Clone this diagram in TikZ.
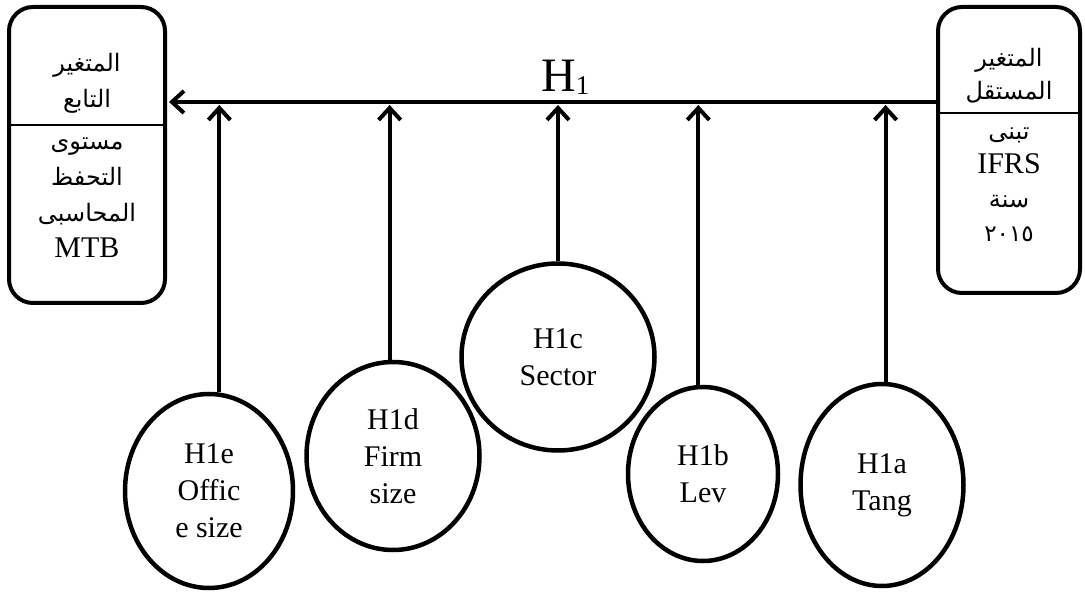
\documentclass[tikz,border=0pt]{standalone}
\usepackage{fontspec}
\setmainfont{Liberation Serif}
\newfontfamily\arabicfont[Script=Arabic]{DejaVu Sans}
\TeXXeTstate=1
\usetikzlibrary{arrows.meta,shapes.geometric,calc}
\newcommand{\arl}[1]{{\arabicfont\fontsize{24}{36}\selectfont\beginR #1\endR}}
\begin{document}
\begin{tikzpicture}[x=1pt,y=-1pt,
  varbox/.style={draw,line width=4pt,rounded corners=24pt,inner sep=0pt},
  hyp/.style={ellipse,draw,line width=4.5pt,inner sep=0pt,align=center,font=\fontsize{30}{37}\selectfont},
  arr/.style={line width=4pt,-{Straight Barb[length=12pt,width=22pt]}},
  boxtext/.style={align=center,font=\fontsize{30}{36}\selectfont,inner sep=0pt},
  divider/.style={line width=1.5pt}]
\useasboundingbox (0,0) rectangle (1085,593);

% boxes
\node[varbox,minimum width=156pt,minimum height=296pt] (lbox) at (87,155) {};
\node[varbox,minimum width=142pt,minimum height=286pt] (rbox) at (1009,150) {};
\coordinate (ldiv) at (0,125);
\coordinate (rdiv) at (0,113);
\draw[divider] (lbox.west |- ldiv) -- (lbox.east |- ldiv);
\draw[divider] (rbox.west |- rdiv) -- (rbox.east |- rdiv);

\node[boxtext] (ltop) at (87,83) {\arl{المتغير}\\\arl{التابع}};
\node[boxtext] (lbot) at (87,198) {\arl{مستوى}\\\arl{التحفظ}\\\arl{المحاسبى}\\MTB};
\node[boxtext,font=\fontsize{30}{33}\selectfont] (rtop) at (1009,76) {\arl{المتغير}\\\arl{المستقل}};
\node[boxtext,font=\fontsize{30}{34}\selectfont] (rbot) at (1009,185) {\arl{تبنى}\\IFRS\\\arl{سنة}\\{\arabicfont\fontsize{23}{34}\selectfont ٢٠١٥}};

% main line
\coordinate (mainy) at (0,102);
\draw[arr,shorten >=2pt] (rbox.west |- mainy) -- (lbox.east |- mainy);
\node[anchor=base west,inner sep=0pt] (hlabel) at (541,92)
  {\fontsize{48}{50}\selectfont H\raisebox{-3pt}{\fontsize{27}{27}\selectfont 1}};

% hypotheses
\node[hyp,minimum width=168pt,minimum height=194pt] (h1e) at (209,491) {H1e\\Offic\\e size};
\node[hyp,minimum width=173pt,minimum height=188pt] (h1d) at (393,456) {H1d\\Firm\\size};
\node[hyp,minimum width=193pt,minimum height=187pt] (h1c) at (558,357) {H1c\\Sector};
\node[hyp,minimum width=150pt,minimum height=174pt] (h1b) at (703,474) {H1b\\Lev};
\node[hyp,minimum width=163pt,minimum height=202pt] (h1a) at (882,485) {H1a\\Tang};

\draw[arr,shorten >=3pt] (h1e.84) -- (h1e.84 |- mainy);
\draw[arr,shorten >=3pt] (h1d.92) -- (h1d.92 |- mainy);
\draw[arr,shorten >=3pt] (h1c.north) -- (h1c.north |- mainy);
\draw[arr,shorten >=3pt] (h1b.93) -- (h1b.93 |- mainy);
\draw[arr,shorten >=3pt] (h1a.88) -- (h1a.88 |- mainy);
\end{tikzpicture}
\end{document}
